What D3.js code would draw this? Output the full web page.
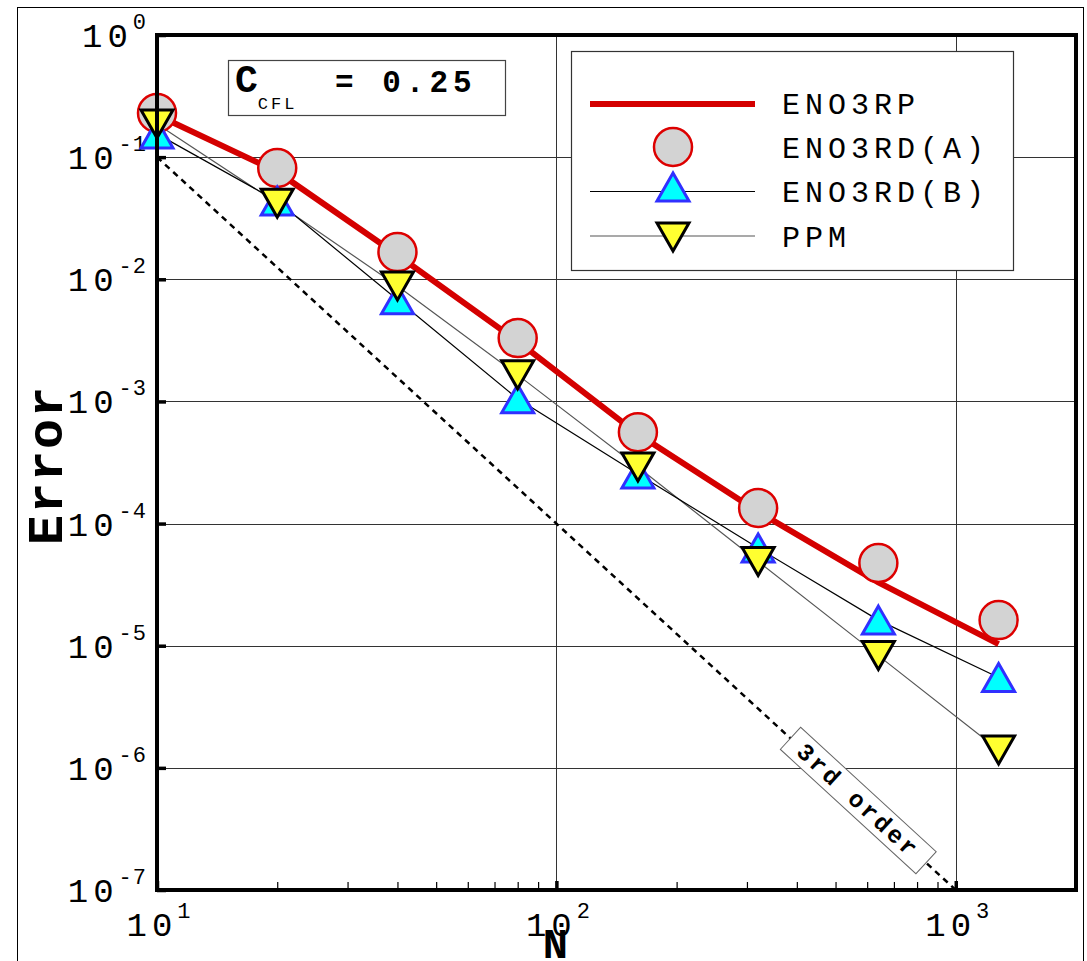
<!DOCTYPE html>
<html>
<head>
<meta charset="utf-8">
<script src="https://cdn.jsdelivr.net/npm/d3@7"></script>
<style>
  html, body { margin: 0; padding: 0; background: #fff; }
  svg { display: block; }
  text { font-family: "Liberation Mono", "DejaVu Sans Mono", monospace; }
</style>
</head>
<body>
<svg id="chart" width="1087" height="961"></svg>
<script>
// Grid resolution and error norms
const N = [10, 20, 40, 80, 160, 320, 640, 1280];
const eno3rp  = [0.221, 0.076, 0.0158, 0.0031, 5.4e-4, 1.25e-4, 3.3e-5, 1.03e-5];
const eno3rdA = [0.23, 0.0815, 0.0167, 0.0033, 5.6e-4, 1.34e-4, 4.75e-5, 1.62e-5];
const eno3rdB = [0.155, 0.0437, 0.0068, 0.00105, 2.55e-4, 6.3e-5, 1.62e-5, 5.5e-6];
const ppm     = [0.187, 0.042, 0.0088, 0.00165, 2.9e-4, 4.9e-5, 8.3e-6, 1.4e-6];

// Third-order reference slope
const refN   = [10, 1000];
const refErr = [0.1, 1e-7];

// Axis ticks
const xMajor = [10, 100, 1000];
const xMinor = [20, 30, 40, 50, 60, 70, 80, 90, 200, 300, 400, 500, 600, 700, 800, 900];
const yMajor = [1, 1e-1, 1e-2, 1e-3, 1e-4, 1e-5, 1e-6, 1e-7];

const legendLabels = ["ENO3RP", "ENO3RD(A)", "ENO3RD(B)", "PPM"];

const svg = d3.select("#chart");
const plot = { left: 157, right: 1076, top: 35, bottom: 890 };

const x = d3.scaleLog().domain([10, 2000]).range([plot.left, plot.right]);
const y = d3.scaleLog().domain([1e-7, 1]).range([plot.bottom, plot.top]);

// outer border
svg.append("rect").attr("x", 17.5).attr("y", 7.5).attr("width", 1066).attr("height", 980)
  .attr("fill", "none").attr("stroke", "#000").attr("stroke-width", 1);

// grid
const grid = svg.append("g").attr("stroke", "#333").attr("stroke-width", 1);
grid.selectAll("line.gx").data(xMajor.slice(1)).join("line")
  .attr("x1", d => Math.round(x(d)) + 0.5).attr("x2", d => Math.round(x(d)) + 0.5)
  .attr("y1", plot.top).attr("y2", plot.bottom);
grid.selectAll("line.gy").data(yMajor.slice(1, -1)).join("line")
  .attr("y1", d => Math.round(y(d)) + 0.5).attr("y2", d => Math.round(y(d)) + 0.5)
  .attr("x1", plot.left).attr("x2", plot.right);

// x axis ticks (inside, pointing up)
const xAxisMinor = d3.axisBottom(x).tickValues(xMinor).tickSize(-8).tickFormat("");
const gxMinor = svg.append("g").attr("transform", `translate(0,${plot.bottom})`).call(xAxisMinor);
gxMinor.select(".domain").remove();
gxMinor.selectAll(".tick line").attr("stroke", "#000").attr("stroke-width", 1.2);

const xAxisMajor = d3.axisBottom(x).tickValues(xMajor).tickSize(-9).tickFormat("");
const gxMajor = svg.append("g").attr("transform", `translate(0,${plot.bottom})`).call(xAxisMajor);
gxMajor.select(".domain").remove();
gxMajor.selectAll(".tick line").attr("stroke", "#000").attr("stroke-width", 3.5);

// y axis ticks (inside, pointing right)
const yAxis = d3.axisLeft(y).tickValues(yMajor).tickSize(-9).tickFormat("");
const gy = svg.append("g").attr("transform", `translate(${plot.left},0)`).call(yAxis);
gy.select(".domain").remove();
gy.selectAll(".tick line").attr("stroke", "#000").attr("stroke-width", 3.5);

// power-of-ten tick labels
function powLabel(sel, exp, anchor) {
  sel.attr("text-anchor", anchor).attr("font-size", 34).attr("fill", "#000")
    .style("letter-spacing", "5px");
  sel.append("tspan").text("10");
  sel.append("tspan").attr("dy", -18).attr("font-size", 22).style("letter-spacing", "1px").text(exp);
}
yMajor.forEach(v => {
  const e = Math.round(Math.log10(v));
  const t = svg.append("text").attr("x", 147).attr("y", y(v) + 12);
  powLabel(t, String(e), "end");
});
xMajor.forEach(v => {
  const e = Math.round(Math.log10(v));
  const t = svg.append("text").attr("x", x(v) + 2).attr("y", 936);
  powLabel(t, String(e), "middle");
});

// axis titles
svg.append("text").attr("x", x(100) - 1).attr("y", 958).attr("text-anchor", "middle")
  .attr("font-size", 42).attr("font-weight", "bold").text("N");
svg.append("text").attr("transform", "translate(62,465) rotate(-90)").attr("text-anchor", "middle")
  .attr("font-size", 50).attr("font-weight", "bold").style("letter-spacing", "2px").text("Error");

// third-order reference line
const ref = refN.map((n, i) => [n, refErr[i]]);
svg.append("path").datum(ref)
  .attr("d", d3.line().x(d => x(d[0])).y(d => y(d[1])))
  .attr("fill", "none").attr("stroke", "#000").attr("stroke-width", 2.5)
  .attr("stroke-dasharray", "6,5");

// label on the reference line
{
  const p0 = [x(refN[0]), y(refErr[0])], p1 = [x(refN[1]), y(refErr[1])];
  const ang = Math.atan2(p1[1] - p0[1], p1[0] - p0[0]) * 180 / Math.PI;
  const nLab = 570;
  const cx = x(nLab), cy = y(refErr[0] * Math.pow(nLab / refN[0], -3));
  const g = svg.append("g").attr("transform", `translate(${cx},${cy}) rotate(${ang})`);
  g.append("rect").attr("x", -92).attr("y", -15).attr("width", 184).attr("height", 30)
    .attr("fill", "#fff").attr("stroke", "#666").attr("stroke-width", 1);
  g.append("text").attr("x", 0).attr("y", 8).attr("text-anchor", "middle")
    .attr("font-size", 24).attr("font-weight", "bold").style("letter-spacing", "3px").text("3rd order");
}

// series lines
const line = d3.line().x(d => x(d[0])).y(d => y(d[1]));
const zip = vals => N.map((n, i) => [n, vals[i]]);
svg.append("path").datum(zip(ppm)).attr("d", line)
  .attr("fill", "none").attr("stroke", "#555").attr("stroke-width", 1.2);
svg.append("path").datum(zip(eno3rdB)).attr("d", line)
  .attr("fill", "none").attr("stroke", "#000").attr("stroke-width", 1.2);
svg.append("path").datum(zip(eno3rp)).attr("d", line)
  .attr("fill", "none").attr("stroke", "#d40000").attr("stroke-width", 6);

// markers
const triUp = "M0,-14L16,14L-16,14Z";
const triDown = "M0,14L16,-14L-16,-14Z";
svg.append("g").selectAll("circle").data(zip(eno3rdA)).join("circle")
  .attr("cx", d => x(d[0])).attr("cy", d => y(d[1])).attr("r", 19)
  .attr("fill", "#d3d3d3").attr("stroke", "#dd0000").attr("stroke-width", 2.5);
svg.append("g").selectAll("path").data(zip(eno3rdB)).join("path")
  .attr("transform", d => `translate(${x(d[0])},${y(d[1])})`).attr("d", triUp)
  .attr("fill", "#00ffff").attr("stroke", "#3030ff").attr("stroke-width", 3).attr("stroke-linejoin", "miter");
svg.append("g").selectAll("path").data(zip(ppm)).join("path")
  .attr("transform", d => `translate(${x(d[0])},${y(d[1])})`).attr("d", triDown)
  .attr("fill", "#ffff30").attr("stroke", "#000").attr("stroke-width", 3).attr("stroke-linejoin", "miter");

// plot frame
svg.append("rect").attr("x", plot.left).attr("y", plot.top)
  .attr("width", plot.right - plot.left).attr("height", plot.bottom - plot.top)
  .attr("fill", "none").attr("stroke", "#000").attr("stroke-width", 4);

// CFL annotation box
{
  const g = svg.append("g");
  g.append("rect").attr("x", 228.5).attr("y", 60.5).attr("width", 277).attr("height", 55)
    .attr("fill", "#fff").attr("stroke", "#444").attr("stroke-width", 1.2);
  const t = g.append("text").attr("x", 235).attr("y", 92).attr("font-weight", "bold").attr("font-size", 38);
  t.append("tspan").text("C");
  t.append("tspan").attr("dy", 17).attr("font-size", 17).attr("font-weight", "normal")
    .style("letter-spacing", "3px").text("CFL");
  t.append("tspan").attr("dy", -17).attr("x", 335).attr("font-size", 31)
    .style("letter-spacing", "5px").text("= 0.25");
}

// legend
{
  const lx = 571, ly = 51;
  const g = svg.append("g");
  g.append("rect").attr("x", lx + 0.5).attr("y", ly + 0.5).attr("width", 442).attr("height", 219)
    .attr("fill", "#fff").attr("stroke", "#333").attr("stroke-width", 1.2);
  const rows = [104, 147, 190, 236];
  const sx0 = 590, sx1 = 755, mx = 673, tx = 782;
  g.append("line").attr("x1", sx0).attr("x2", sx1).attr("y1", rows[0]).attr("y2", rows[0])
    .attr("stroke", "#d40000").attr("stroke-width", 6);
  g.append("circle").attr("cx", mx).attr("cy", rows[1]).attr("r", 19)
    .attr("fill", "#d3d3d3").attr("stroke", "#dd0000").attr("stroke-width", 2.5);
  g.append("line").attr("x1", sx0).attr("x2", sx1).attr("y1", rows[2] + 1.5).attr("y2", rows[2] + 1.5)
    .attr("stroke", "#000").attr("stroke-width", 1.2);
  g.append("path").attr("transform", `translate(${mx},${rows[2] - 3})`).attr("d", triUp)
    .attr("fill", "#00ffff").attr("stroke", "#3030ff").attr("stroke-width", 3);
  g.append("line").attr("x1", sx0).attr("x2", sx1).attr("y1", rows[3]).attr("y2", rows[3])
    .attr("stroke", "#555").attr("stroke-width", 1.2);
  g.append("path").attr("transform", `translate(${mx},${rows[3] + 1})`).attr("d", triDown)
    .attr("fill", "#ffff30").attr("stroke", "#000").attr("stroke-width", 3);
  const base = [114, 158, 202, 247];
  legendLabels.forEach((s, i) => {
    g.append("text").attr("x", tx).attr("y", base[i]).attr("font-size", 30)
      .style("letter-spacing", "5px").attr("fill", "#000").text(s);
  });
}
</script>
</body>
</html>
